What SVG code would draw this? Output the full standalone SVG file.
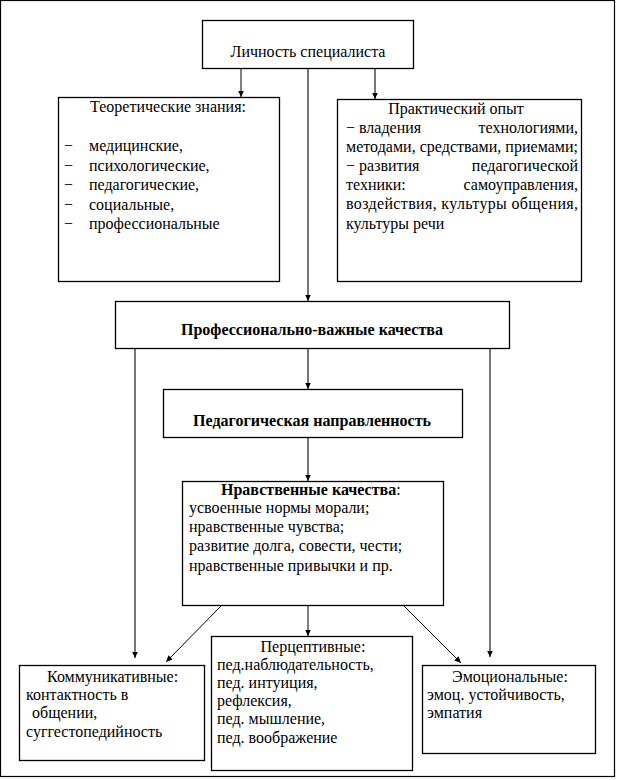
<svg xmlns="http://www.w3.org/2000/svg" width="617" height="780" viewBox="0 0 617 780">
<style>
.box{fill:#fff;stroke:#000;stroke-width:1.3}
text{font-family:"Liberation Serif","Times New Roman",serif;font-size:16px;fill:#000}
.b{font-weight:bold}
.c{text-anchor:middle}
.e{text-anchor:end}
.ln{stroke:#555;stroke-width:1.6;fill:none}
.lk{stroke:#000;stroke-width:1;fill:none}
</style>
<defs>
<marker id="ah" markerUnits="userSpaceOnUse" markerWidth="7" markerHeight="6" refX="6.5" refY="3" orient="auto">
<path d="M0,0 L6.5,3 L0,6 z" fill="#000"/>
</marker>
</defs>
<rect x="0.5" y="0.5" width="614" height="776" fill="#fff" stroke="#000" stroke-width="1.2"/>

<g id="connectors">
<line class="lk" x1="241" y1="68" x2="241" y2="97" marker-end="url(#ah)"/>
<line class="ln" x1="375" y1="68" x2="375" y2="99" marker-end="url(#ah)"/>
<line class="ln" x1="308" y1="68" x2="308" y2="301" marker-end="url(#ah)"/>
<line class="ln" x1="308" y1="349" x2="308" y2="389" marker-end="url(#ah)"/>
<line class="ln" x1="135" y1="349" x2="135" y2="658" marker-end="url(#ah)"/>
<line class="ln" x1="490" y1="349" x2="490" y2="657" marker-end="url(#ah)"/>
<line class="ln" x1="308" y1="437" x2="308" y2="481" marker-end="url(#ah)"/>
<line class="lk" x1="221" y1="606" x2="166" y2="662" marker-end="url(#ah)"/>
<line class="lk" x1="308" y1="606" x2="308" y2="636" marker-end="url(#ah)"/>
<line class="lk" x1="404" y1="606" x2="461" y2="663" marker-end="url(#ah)"/>
</g>

<g id="lichnost">
<rect class="box" x="202.5" y="20.5" width="211" height="48"/>
<text class="c" x="308" y="57">Личность специалиста</text>
</g>

<g id="teor">
<rect class="box" x="58.5" y="97.5" width="221" height="184"/>
<text class="c" x="168" y="112">Теоретические знания:</text>
<text x="64" y="151">−</text><text x="89" y="151">медицинские,</text>
<text x="64" y="170.5">−</text><text x="89" y="170.5">психологические,</text>
<text x="64" y="190">−</text><text x="89" y="190">педагогические,</text>
<text x="64" y="209.5">−</text><text x="89" y="209.5">социальные,</text>
<text x="64" y="229">−</text><text x="89" y="229">профессиональные</text>
</g>

<g id="prakt">
<rect class="box" x="337.5" y="99.5" width="244" height="182"/>
<text class="c" x="456" y="114">Практический опыт</text>
<text x="346" y="133">− владения</text><text class="e" x="578" y="133">технологиями,</text>
<text x="346" y="152" textLength="232" lengthAdjust="spacing">методами, средствами, приемами;</text>
<text x="346" y="171">− развития</text><text class="e" x="578" y="171">педагогической</text>
<text x="346" y="190">техники:</text><text class="e" x="578" y="190">самоуправления,</text>
<text x="346" y="209" textLength="232" lengthAdjust="spacing">воздействия, культуры общения,</text>
<text x="346" y="229">культуры речи</text>
</g>

<g id="pvk">
<rect class="box" x="115.5" y="301.5" width="394" height="47"/>
<text class="b c" x="312" y="335" textLength="262" lengthAdjust="spacingAndGlyphs">Профессионально-важные качества</text>
</g>

<g id="pednapr">
<rect class="box" x="163.5" y="389.5" width="299" height="48"/>
<text class="b c" x="312" y="426" textLength="238" lengthAdjust="spacingAndGlyphs">Педагогическая направленность</text>
</g>

<g id="nravst">
<rect class="box" x="182.5" y="481.5" width="261" height="124"/>
<text x="221" y="495"><tspan class="b">Нравственные качества</tspan>:</text>
<text x="189" y="513">усвоенные нормы морали;</text>
<text x="189" y="532">нравственные чувства;</text>
<text x="189" y="551">развитие долга, совести, чести;</text>
<text x="189" y="571">нравственные привычки и пр.</text>
</g>

<g id="komm">
<rect class="box" x="19.5" y="665.5" width="185" height="95"/>
<text x="47" y="682">Коммуникативные:</text>
<text x="26" y="700">контактность в</text>
<text x="32" y="718">общении,</text>
<text x="26" y="737">суггестопедийность</text>
</g>

<g id="percept">
<rect class="box" x="211.5" y="636.5" width="201" height="134"/>
<text class="c" x="313" y="652">Перцептивные:</text>
<text x="217" y="670">пед.наблюдательность,</text>
<text x="217" y="688">пед. интуиция,</text>
<text x="217" y="706">рефлексия,</text>
<text x="217" y="724">пед. мышление,</text>
<text x="217" y="743">пед. воображение</text>
</g>

<g id="emoc">
<rect class="box" x="422.5" y="665.5" width="173" height="88"/>
<text class="c" x="510" y="682">Эмоциональные:</text>
<text x="427" y="700">эмоц. устойчивость,</text>
<text x="427" y="718">эмпатия</text>
</g>
</svg>
